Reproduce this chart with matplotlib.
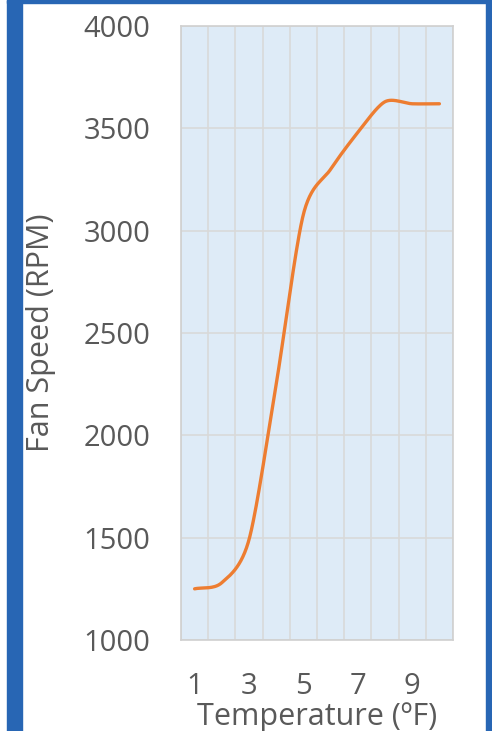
import numpy as np
import matplotlib
matplotlib.use("Agg")
import matplotlib.pyplot as plt
from matplotlib.patches import Rectangle

# data
temperature = [1, 2, 3, 4, 5, 6, 7, 8, 9, 10]
fan_speed = [1250, 1280, 1490, 2250, 3080, 3300, 3480, 3630, 3620, 3620]
xtick_labels = ["1", "3", "5", "7", "9"]
yticks = [1000, 1500, 2000, 2500, 3000, 3500, 4000]


def smooth(x, y, n=30):
    # catmull-rom style smoothing like Excel's "smoothed line"
    x = np.asarray(x, float)
    y = np.asarray(y, float)
    px = np.concatenate([[2 * x[0] - x[1]], x, [2 * x[-1] - x[-2]]])
    py = np.concatenate([[2 * y[0] - y[1]], y, [2 * y[-1] - y[-2]]])
    xs, ys = [], []
    t = np.linspace(0, 1, n)
    for i in range(1, len(px) - 2):
        for arr, out in ((px, xs), (py, ys)):
            p0, p1, p2, p3 = arr[i - 1], arr[i], arr[i + 1], arr[i + 2]
            m1 = (p2 - p0) / 2 * 0.85
            m2 = (p3 - p1) / 2 * 0.85
            h00 = 2 * t**3 - 3 * t**2 + 1
            h10 = t**3 - 2 * t**2 + t
            h01 = -2 * t**3 + 3 * t**2
            h11 = t**3 - t**2
            out.extend(h00 * p1 + h10 * m1 + h01 * p2 + h11 * m2)
    return np.array(xs), np.array(ys)


plt.rcParams['font.family'] = ['Open Sans', 'DejaVu Sans']
gray = "#595959"

fig = plt.figure(figsize=(4.92, 7.31), dpi=100)
fig.patch.set_facecolor("white")

# blue frame around the chart
blue = "#2866b4"
fig.patches.append(Rectangle((7 / 492, 0), 15 / 492, 1, transform=fig.transFigure, color=blue, zorder=0))
fig.patches.append(Rectangle((486 / 492, 0), 6 / 492, 1, transform=fig.transFigure, color=blue, zorder=0))
fig.patches.append(Rectangle((7 / 492, 1 - 3 / 731), 485 / 492, 3 / 731, transform=fig.transFigure, color=blue, zorder=0))

ax = fig.add_axes([181 / 492, 91 / 731, 272 / 492, 614 / 731])
ax.set_facecolor("#deebf7")

sx, sy = smooth(temperature, fan_speed)
ax.plot(sx, sy, color="#ed7d31", lw=2.4, solid_capstyle="round", zorder=3)

ax.set_xlim(0.5, 10.5)
ax.set_ylim(1000, 4000)
ax.set_yticks(yticks)
ax.set_xticks([1, 3, 5, 7, 9])
ax.set_xticklabels(xtick_labels)
ax.set_xticks(np.arange(0.5, 11, 1), minor=True)
ax.grid(False)
ax.grid(True, which="minor", axis="x", color="#d9d9d9", lw=1.2)
ax.grid(True, which="major", axis="y", color="#d9d9d9", lw=1.2)
ax.set_axisbelow(True)

for s in ax.spines.values():
    s.set_color("#d0d0d0")
    s.set_linewidth(1.2)

ax.tick_params(which="both", length=0, labelsize=21, labelcolor=gray)
ax.tick_params(axis="y", pad=22)
ax.tick_params(axis="x", pad=23)

ax.set_xlabel("Temperature (ºF)", fontsize=22, color=gray, labelpad=1)
ax.set_ylabel("Fan Speed (RPM)", fontsize=22, color=gray, labelpad=20)

fig.savefig("out.png", dpi=100)
